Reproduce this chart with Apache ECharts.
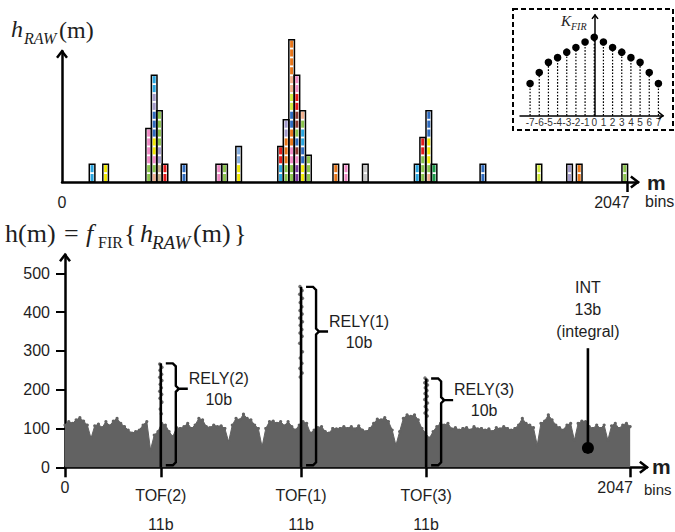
<!DOCTYPE html>
<html>
<head>
<meta charset="utf-8">
<script src="https://cdn.jsdelivr.net/npm/echarts@6.0.0/dist/echarts.min.js"></script>
<style>html,body{margin:0;padding:0;background:#fff;}#chart{width:675px;height:532px;}</style>
</head>
<body>
<div id="chart"></div>
<script>
// ===================== DATA =====================
// raw histogram h_RAW(m): column centre (bin) and number of counts
const rawBins   = [109,158,314,334,353,373,442,568,589,640,792,812,832,851,872,893,992,1029,1099,1287,1307,1329,1348,1525,1728,1839,1874,2039];
const rawCounts = [2,2,6,12,8,2,2,2,2,4,4,7,16,12,8,3,2,2,2,2,5,8,2,2,2,2,2,2];

// FIR kernel
const firTaps    = [-7,-6,-5,-4,-3,-2,-1,0,1,2,3,4,5,6,7];
const firWeights = [0.41,0.55,0.68,0.74,0.81,0.87,0.94,1.00,0.94,0.87,0.81,0.74,0.68,0.55,0.41];

// filtered histogram h(m): background level, one value per ~13.5 bins from 0 to 2047
const noiseValues = [
  109,118,113,122,128,119,109,75,107,111,102,118,107,119,126,113,105,96,88,92,96,109,118,45,83,92,
  113,109,92,79,102,100,105,113,100,109,126,122,105,102,109,105,107,100,66,109,126,122,137,126,122,109,100,53,100,118,119,113,118,107,118,105,96,109,
  118,113,88,96,102,105,92,88,100,99,100,105,100,105,99,107,96,92,100,113,124,122,128,118,96,57,92,126,135,131,135,122,100,
  88,75,92,105,113,109,113,99,102,96,100,102,96,105,99,100,96,99,92,102,99,105,100,96,100,109,126,113,109,102,57,113,119,135,122,109,102,96,109,113,70,113,119,118,105,100,109,100,109,70,107,113,100,109,113,105
];

// peaks
const tofNames  = ['TOF(2)','TOF(1)','TOF(3)'];
const relyNames = ['RELY(2)','RELY(1)','RELY(3)'];
const tofBits   = '11b';
const relyBits  = '10b';
const tofBins   = [347,855,1308];
const tofPeaks  = [268,465,229];

// dots climbing each peak
const peakDotBins = [
  343,351,344,350,343,351,345,349,343,350,344,351,345,349,
  851,859,850,860,852,858,851,859,850,860,852,858,851,859,850,860,852,858,851,859,852,
  1304,1312,1303,1313,1305,1311,1304,1312,1303,1313,1305,1311,1304,1312
];
const peakDotValues = [
  266,258,250,240,232,224,214,205,196,188,178,168,150,138,
  466,456,446,436,425,414,404,395,385,375,366,355,346,338,320,298,282,268,255,243,233,
  230,224,218,212,205,198,190,183,175,166,157,148,140,132
];

// integral marker
const intBin = 1894, intValue = 50, intLineTop = 307;
const intLabel = 'INT\n13b\n(integral)';

// axis labels
const yTickValues = [0,100,200,300,400,500];
const xEndLabels  = [0,2047];
const xUnit = 'm', xUnit2 = 'bins';

// ===================== STYLE =====================
const SANS = 'Liberation Sans, Arial, sans-serif';
const SERIF = 'Liberation Serif, Times New Roman, serif';
const TXT = '#1e1e1e';
const palette = {
  c:'#2aa6e0', b:'#2f6cc0', e:'#86aee0', y:'#f2ea00', g:'#8ac44c', G:'#1c9a4a', k:'#d2ea3c',
  p:'#f08ac6', o:'#e8761a', r:'#e41c1c', l:'#a49ccc', s:'#f2b08e', t:'#c4b08a', m:'#8c3a34',
  w:'#c8c8c8', v:'#7a3aa0'
};
const cellColors = ['cc','yy','ggpppp','sgpyybbbllcc','ttllgggg','rr','bb','pp','gg','yyee','ccrr','ggoooll',
  'ggppoobbkkssoooo','vvpmbgmmrrpp','yybbccgs','ggg','oo','pp','ww','cc','gggrr','sgyyybbb','GG','bb','kk','ll','oo','gg'];
const COL_W = 20.3; // column width in bins

const G0 = {left:62, top:51.2, width:576, height:130.8};   // raw
const G1 = {left:65, top:254.7, width:582, height:212.6};  // filtered
const G2 = {left:520, top:15, width:143, height:100.7};    // kernel inset

const NOISE_STEP = 2047 / (noiseValues.length - 1);

const chart = echarts.init(document.getElementById('chart'), null, {renderer:'svg', width:675, height:532});

const axisLine = w => ({show:true, onZero:true, lineStyle:{color:'#000', width:w}});
const noSplit = {show:false};

const option = {
  animation:false,
  backgroundColor:'#fff',
  grid:[G0, G1, G2].map(g => Object.assign({containLabel:false}, g)),
  xAxis:[
    {gridIndex:0, type:'value', min:0, max:2087, axisLine:axisLine(2.5), splitLine:noSplit,
     axisTick:{show:true, customValues:[2047], length:10, lineStyle:{color:'#000', width:2.5}},
     axisLabel:{show:true, customValues:xEndLabels, margin:12, color:TXT, fontFamily:SANS, fontSize:16,
       formatter:v => v === 2047 ? '{r|2047}' : String(v), rich:{r:{fontFamily:SANS, fontSize:16, color:TXT, padding:[0,30,0,0]}}}},
    {gridIndex:1, type:'value', min:0, max:2108, axisLine:axisLine(2.5), splitLine:noSplit,
     axisTick:{show:true, customValues:[0].concat(tofBins, [2047]), length:10, lineStyle:{color:'#000', width:2.5}},
     axisLabel:{show:true, customValues:xEndLabels, margin:12, color:TXT, fontFamily:SANS, fontSize:16,
       formatter:v => v === 2047 ? '{r|2047}' : String(v), rich:{r:{fontFamily:SANS, fontSize:16, color:TXT, padding:[0,30,0,0]}}}},
    {gridIndex:2, type:'value', min:-8.1, max:7.5, axisLine:axisLine(1.5), splitLine:noSplit,
     axisTick:{show:false},
     axisLabel:{show:true, customValues:firTaps, margin:2, color:'#333', fontFamily:SANS, fontSize:10}}
  ],
  yAxis:[
    {gridIndex:0, type:'value', min:0, max:14.7, axisLine:axisLine(2.5), splitLine:noSplit,
     axisTick:{show:false}, axisLabel:{show:false}},
    {gridIndex:1, type:'value', min:0, max:548, axisLine:axisLine(2.5), splitLine:noSplit,
     axisTick:{show:true, customValues:yTickValues, length:9, lineStyle:{color:'#000', width:2}},
     axisLabel:{show:true, customValues:yTickValues, margin:15, color:TXT, fontFamily:SANS, fontSize:16}},
    {gridIndex:2, type:'value', min:0, max:1.284, axisLine:axisLine(1.5), splitLine:noSplit,
     axisTick:{show:false}, axisLabel:{show:false}}
  ],
  series:[
    // raw histogram columns of coloured counts
    {type:'custom', xAxisIndex:0, yAxisIndex:0, clip:false, z:3,
     data: rawBins.map((b,i) => [b, rawCounts[i]]),
     renderItem:(params, api) => {
       const bin = api.value(0), n = api.value(1);
       const base = api.coord([bin, 0]);
       const w = api.size([COL_W, 0])[0];
       const h = api.size([0, 1])[1];
       const x = base[0] - w/2;
       const codes = cellColors[params.dataIndex] || '';
       const ch = [];
       for (let k = 0; k < n; k++) {
         const y = base[1] - (k+1)*h;
         ch.push({type:'rect', shape:{x:x+1.3, y:y+0.9, width:w-2.6, height:h-1.8},
                  style:{fill: palette[codes[k]] || '#999'}});
       }
       ch.push({type:'rect', shape:{x:x, y:base[1]-n*h, width:w, height:n*h},
                style:{fill:'none', stroke:'#000', lineWidth:1.5}});
       return {type:'group', children:ch};
     }},
    // filtered background
    {type:'line', xAxisIndex:1, yAxisIndex:1, z:2,
     data: noiseValues.map((v,i) => [i*NOISE_STEP, v]),
     symbol:'circle', symbolSize:3.2, showSymbol:true,
     itemStyle:{color:'#626262'}, lineStyle:{color:'#626262', width:1},
     areaStyle:{color:'#626262', opacity:1}},
    // dots along peaks
    {type:'scatter', xAxisIndex:1, yAxisIndex:1, z:4,
     data: peakDotBins.map((b,i) => [b, peakDotValues[i]]),
     symbolSize:3.5, itemStyle:{color:'#555'}},
    // TOF lines, brackets and labels
    {type:'custom', xAxisIndex:1, yAxisIndex:1, clip:false, z:6,
     data: tofBins.map((b,i) => [b, tofPeaks[i]]),
     renderItem:(params, api) => {
       const i = params.dataIndex;
       const b = api.value(0), v = api.value(1);
       const top = api.coord([b, v]), bot = api.coord([b, 0]);
       const x0 = top[0] + 5, xv = x0 + 10, yT = top[1], yB = bot[1] - 2;
       const yM = yT + (yB - yT) * 0.25;
       const ls = {stroke:'#000', fill:null, lineWidth:2.4};
       return {type:'group', children:[
         {type:'line', shape:{x1:top[0], y1:top[1], x2:bot[0], y2:bot[1]}, style:{stroke:'#000', lineWidth:2.6}},
         {type:'polyline', shape:{points:[[x0,yT],[xv-3,yT],[xv,yT+3],[xv,yM-3],[xv+3,yM],[xv+12,yM]]}, style:ls},
         {type:'polyline', shape:{points:[[xv+3,yM],[xv,yM+3],[xv,yB-3],[xv-3,yB],[x0,yB]]}, style:ls},
         {type:'text', style:{text:relyNames[i] + '\n' + relyBits, x:xv+12+31, y:yM, align:'center', verticalAlign:'middle',
           fontFamily:SANS, fontSize:16, lineHeight:21, fill:TXT}},
         {type:'text', style:{text:tofNames[i], x:bot[0], y:bot[1]+28, align:'center', verticalAlign:'middle',
           fontFamily:SANS, fontSize:16, fill:TXT}},
         {type:'text', style:{text:tofBits, x:bot[0], y:bot[1]+57, align:'center', verticalAlign:'middle',
           fontFamily:SANS, fontSize:16, fill:TXT}}
       ]};
     }},
    // integral marker
    {type:'custom', xAxisIndex:1, yAxisIndex:1, clip:false, z:6,
     data:[[intBin, intValue, intLineTop]],
     renderItem:(params, api) => {
       const p = api.coord([api.value(0), api.value(1)]);
       const t = api.coord([api.value(0), api.value(2)]);
       return {type:'group', children:[
         {type:'line', shape:{x1:t[0], y1:t[1], x2:p[0], y2:p[1]}, style:{stroke:'#000', lineWidth:2.6}},
         {type:'circle', shape:{cx:p[0], cy:p[1], r:6}, style:{fill:'#000'}},
         {type:'text', style:{text:intLabel, x:t[0], y:t[1]-6, align:'center', verticalAlign:'bottom',
           fontFamily:SANS, fontSize:16, lineHeight:22, fill:TXT}}
       ]};
     }},
    // FIR kernel stems
    {type:'custom', xAxisIndex:2, yAxisIndex:2, clip:false, z:3,
     data: firTaps.map((k,i) => [k, firWeights[i]]),
     renderItem:(params, api) => {
       const p = api.coord([api.value(0), api.value(1)]);
       const b = api.coord([api.value(0), 0]);
       return {type:'group', children:[
         {type:'line', shape:{x1:b[0], y1:b[1], x2:p[0], y2:p[1]}, style:{stroke:'#000', lineWidth:1.2, lineDash:[1.6,1.6]}},
         {type:'circle', shape:{cx:p[0], cy:p[1], r:3.8}, style:{fill:'#000'}}
       ]};
     }}
  ]
};
chart.setOption(option);

// ---------- annotations (arrows, titles, units) ----------
const chev = (tip, dir, s, lw) => {
  const [x, y] = tip;
  const pts = dir === 'up' ? [[x-s, y+s*1.3],[x, y],[x+s, y+s*1.3]] : [[x-s*1.3, y-s],[x, y],[x-s*1.3, y+s]];
  return {type:'polyline', shape:{points:pts}, style:{stroke:'#000', fill:null, lineWidth:lw}, z:10};
};
const T = (text, x, y, opt) => ({type:'text', z:10, style:Object.assign({text, x, y, fill:TXT, fontFamily:SANS, fontSize:16,
  align:'left', verticalAlign:'middle'}, opt || {})});

const graphics = [
  {type:'rect', shape:{x:513, y:9, width:160, height:121}, style:{fill:'none', stroke:'#000', lineWidth:2, lineDash:[5,3]}, z:1},
  chev([G0.left, G0.top], 'up', 5, 2.5),
  chev([G0.left + G0.width, G0.top + G0.height], 'right', 5.5, 2.5),
  chev([G1.left, G1.top], 'up', 5, 2.5),
  chev([G1.left + G1.width, G1.top + G1.height], 'right', 5.5, 2.5),
  chev([595, G2.top], 'up', 3, 1.5),
  chev([G2.left + G2.width, G2.top + G2.height], 'right', 3.5, 1.5),
  // unit labels
  T(xUnit, 647, 182, {fontSize:21, fontWeight:'bold'}),
  T(xUnit2, 645, 201),
  T(xUnit, 652, 466, {fontSize:21, fontWeight:'bold'}),
  T(xUnit2, 644, 489, {fontSize:15}),
  // title h_RAW(m)
  T('h', 11, 29, {fontFamily:SERIF, fontStyle:'italic', fontSize:24}),
  T('RAW', 24, 38, {fontFamily:SERIF, fontStyle:'italic', fontSize:16}),
  T('(m)', 59, 30, {fontFamily:SERIF, fontSize:24}),
  // formula h(m) = f_FIR{ h_RAW(m) }
  T('h(m)', 5, 233, {fontFamily:SERIF, fontSize:26}),
  T('=', 64, 233, {fontFamily:SERIF, fontSize:26}),
  T('f', 86, 233, {fontFamily:SERIF, fontStyle:'italic', fontSize:26}),
  T('FIR', 98, 242, {fontFamily:SERIF, fontSize:16}),
  T('{', 124, 233, {fontFamily:SERIF, fontSize:26}),
  T('h', 140, 233, {fontFamily:SERIF, fontStyle:'italic', fontSize:26}),
  T('RAW', 152, 242, {fontFamily:SERIF, fontStyle:'italic', fontSize:19}),
  T('(m)', 193, 233, {fontFamily:SERIF, fontSize:26}),
  T('}', 234, 233, {fontFamily:SERIF, fontSize:26}),
  // inset label K_FIR
  T('K', 561, 21, {fontFamily:SERIF, fontStyle:'italic', fontSize:15}),
  T('FIR', 571, 26, {fontFamily:SERIF, fontStyle:'italic', fontSize:10})
];
chart.setOption({graphic:graphics});
</script>
</body>
</html>
